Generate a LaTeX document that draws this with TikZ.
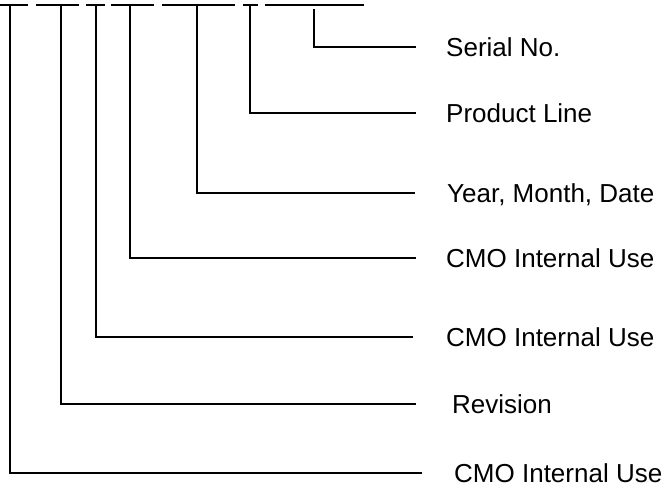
\documentclass[tikz,border=0pt]{standalone}
\usepackage{fontspec}
\setmainfont{Liberation Sans}
\begin{document}
\begin{tikzpicture}[x=1pt,y=-1pt,
  conn/.style={line width=1.2pt, line join=miter},
  bar/.style={line width=1.9pt},
  lbl/.style={anchor=base west, inner sep=0pt, font=\fontsize{26}{30}\selectfont}]
\useasboundingbox (0,0) rectangle (669,488);
% underline bars of the (cropped) code
\foreach \a/\b in {0/28,36/79,86/105,111/154,162/235,243/258,265/364}
  \draw[bar] (\a,4.7) -- (\b,4.7);
% labels
\node[lbl] (serial) at (446,56.5) {Serial No.};
\node[lbl] (prod) at (446,122.5) {Product Line};
\node[lbl] (ymd) at (447,202.5) {Year, Month, Date};
\node[lbl] (cmoa) at (446,267.5) {CMO Internal Use};
\node[lbl] (cmob) at (446,346.5) {CMO Internal Use};
\node[lbl] (rev) at (452,413.5) {Revision};
\node[lbl] (cmoc) at (454,482.5) {CMO Internal Use};
% connector end points
\coordinate (s0) at (314,9);   \coordinate (s1) at (416,47);
\coordinate (p0) at (250,5);   \coordinate (p1) at (416,113);
\coordinate (y0) at (197,5);   \coordinate (y1) at (415,193);
\coordinate (a0) at (130,5);   \coordinate (a1) at (416,258);
\coordinate (b0) at (96,5);    \coordinate (b1) at (413,337);
\coordinate (r0) at (61,5);    \coordinate (r1) at (416,404);
\coordinate (c0) at (10,5);    \coordinate (c1) at (422,473);
\foreach \p in {s,p,y,a,b,r,c}
  \draw[conn] (\p0) |- (\p1);
\end{tikzpicture}
\end{document}
